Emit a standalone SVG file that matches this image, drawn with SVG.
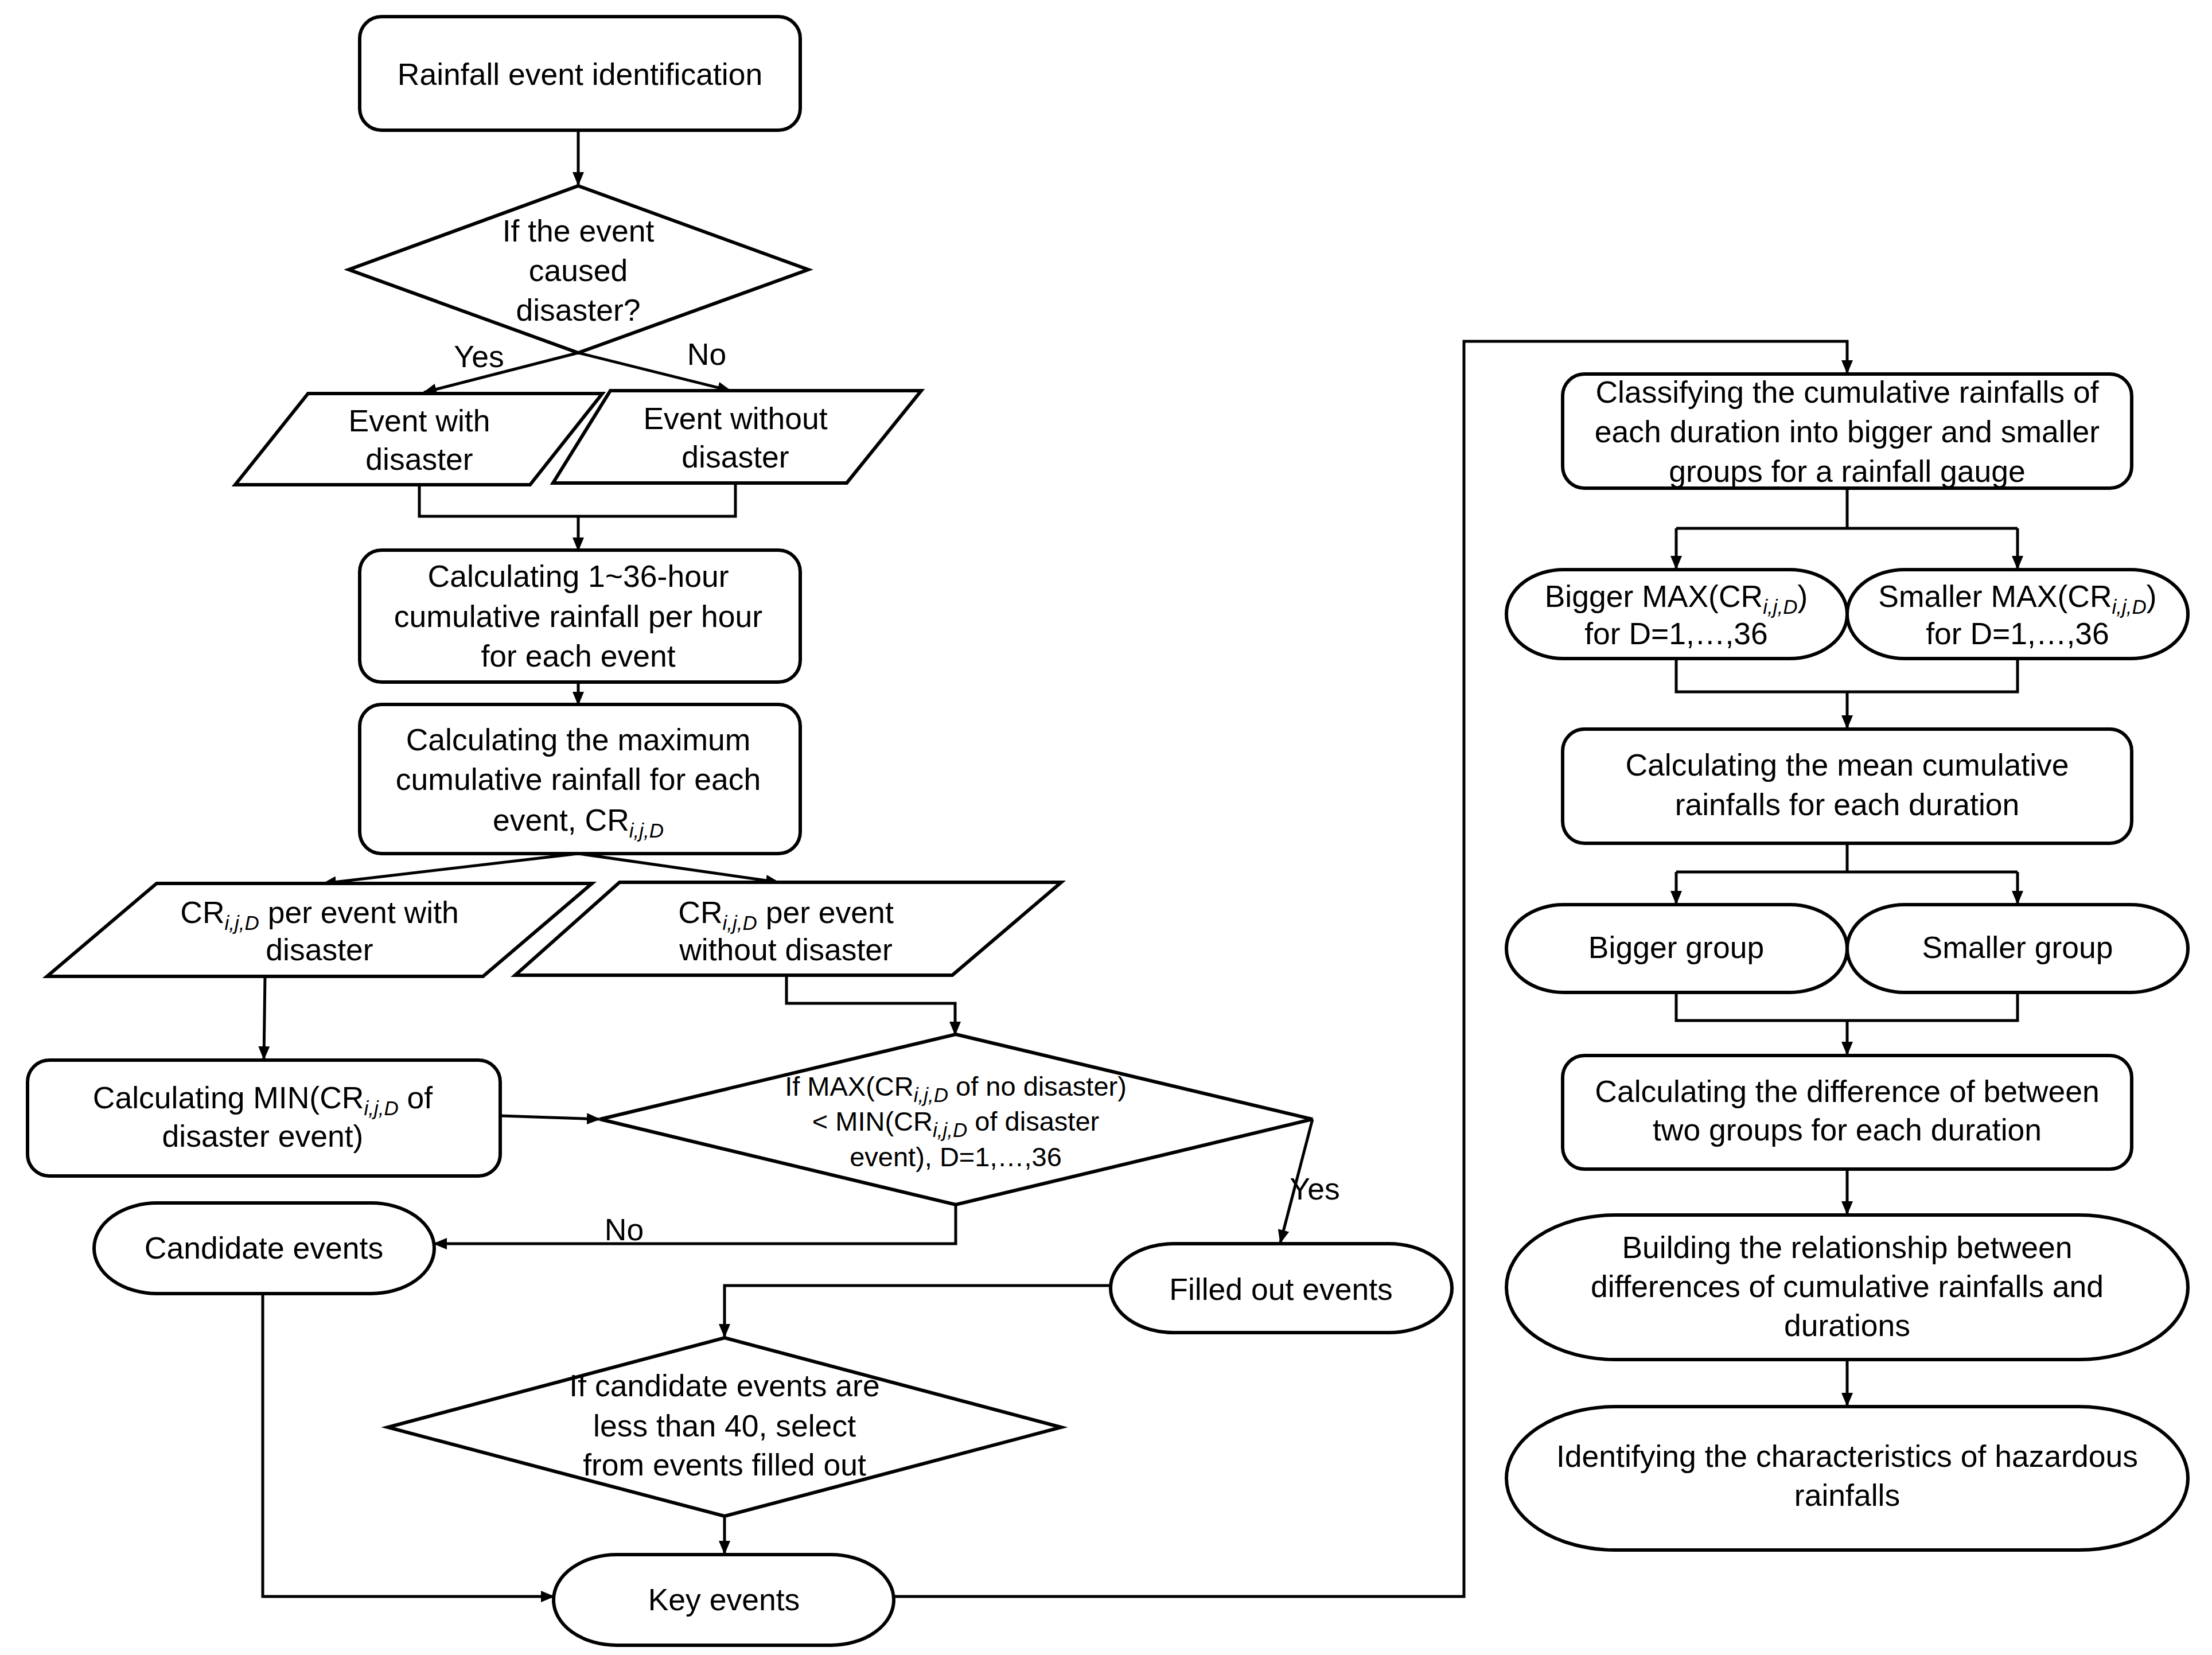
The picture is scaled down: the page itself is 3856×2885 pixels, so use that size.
<svg xmlns="http://www.w3.org/2000/svg" width="3856" height="2885" viewBox="0 0 3856 2885">
<defs>
<marker id="arr" markerUnits="userSpaceOnUse" markerWidth="24" markerHeight="20" refX="22" refY="10" orient="auto">
<path d="M0,0 L24,10 L0,20 Z" fill="#000"/>
</marker>
<style>
.s{fill:#fff;stroke:#000;stroke-width:6;stroke-linejoin:miter}
.c{fill:none;stroke:#000;stroke-width:5}
.a{marker-end:url(#arr)}
text{font-family:"Liberation Sans",Arial,sans-serif;font-size:53.5px;fill:#000;text-anchor:middle}
.sm{font-size:47px}
.sub{font-style:italic;font-size:35px}
</style>
</defs>
<rect width="3856" height="2885" fill="#fff"/>
<g id="connectors">
<line class="c a" x1="1008" y1="227" x2="1008" y2="322"/>
<line class="c a" x1="1008" y1="615" x2="739" y2="684"/>
<line class="c a" x1="1008" y1="615" x2="1273" y2="681"/>
<polyline class="c" points="731,845 731,900 1282,900 1282,842"/>
<line class="c a" x1="1008" y1="900" x2="1008" y2="959"/>
<line class="c a" x1="1008" y1="1188" x2="1008" y2="1228"/>
<line class="c a" x1="1008" y1="1488" x2="564" y2="1540"/>
<line class="c a" x1="1008" y1="1488" x2="1357" y2="1538"/>
<line class="c a" x1="462" y1="1700" x2="460" y2="1846"/>
<polyline class="c a" points="1371,1700 1371,1749 1665,1749 1665,1803"/>
<line class="c a" x1="872" y1="1945" x2="1045" y2="1951"/>
<polyline class="c a" points="1666,2098 1666,2168 757,2168"/>
<line class="c a" x1="2288" y1="1951" x2="2232" y2="2166"/>
<polyline class="c a" points="1936,2241 1263,2241 1263,2330"/>
<line class="c a" x1="1263" y1="2643" x2="1263" y2="2708"/>
<polyline class="c a" points="458,2255 458,2783 965,2783"/>
<polyline class="c a" points="1558,2783 2552,2783 2552,595 3220,595 3220,650"/>
<polyline class="c" points="3220,851 3220,921"/>
<polyline class="c a" points="2922,921 2922,991"/>
<polyline class="c a" points="3517,921 3517,991"/>
<line class="c" x1="2922" y1="921" x2="3517" y2="921"/>
<polyline class="c" points="2922,1148 2922,1206 3517,1206 3517,1148"/>
<line class="c a" x1="3220" y1="1206" x2="3220" y2="1269"/>
<line class="c" x1="3220" y1="1470" x2="3220" y2="1520"/>
<line class="c" x1="2922" y1="1520" x2="3517" y2="1520"/>
<line class="c a" x1="2922" y1="1520" x2="2922" y2="1575"/>
<line class="c a" x1="3517" y1="1520" x2="3517" y2="1575"/>
<polyline class="c" points="2922,1730 2922,1779 3517,1779 3517,1730"/>
<line class="c a" x1="3220" y1="1779" x2="3220" y2="1838"/>
<line class="c a" x1="3220" y1="2038" x2="3220" y2="2116"/>
<line class="c a" x1="3220" y1="2370" x2="3220" y2="2450"/>
<text x="835" y="640">Yes</text>
<text x="1232" y="636">No</text>
<text x="1088" y="2162">No</text>
<text x="2292" y="2091">Yes</text>
</g>
<g id="n1"><rect class="s" x="627" y="29" width="768" height="198" rx="38"/>
<text x="1011" y="148">Rainfall event identification</text></g>
<g id="n2"><polygon class="s" points="1008,324 1409,470 1008,615 608,470"/>
<text x="1008" y="421">If the event</text><text x="1008" y="490">caused</text><text x="1008" y="559">disaster?</text></g>
<g id="n3"><polygon class="s" points="537,686 1050,686 924,845 410,845"/>
<text x="731" y="752">Event with</text><text x="731" y="819">disaster</text></g>
<g id="n4"><polygon class="s" points="1064,681 1606,681 1476,842 964,842"/>
<text x="1282" y="748">Event without</text><text x="1282" y="815">disaster</text></g>
<g id="n5"><rect class="s" x="627" y="959" width="768" height="230" rx="38"/>
<text x="1008" y="1023">Calculating 1~36-hour</text><text x="1008" y="1093">cumulative rainfall per hour</text><text x="1008" y="1162">for each event</text></g>
<g id="n6"><rect class="s" x="627" y="1228" width="768" height="260" rx="38"/>
<text x="1008" y="1308">Calculating the maximum</text><text x="1008" y="1377">cumulative rainfall for each</text><text x="1008" y="1448">event, CR<tspan class="sub" dy="12">i,j,D</tspan></text></g>
<g id="n7"><polygon class="s" points="273,1540 1032,1540 842,1702 82,1702"/>
<text x="557" y="1609">CR<tspan class="sub" dy="12">i,j,D</tspan><tspan dy="-12"> per event with</tspan></text><text x="557" y="1674">disaster</text></g>
<g id="n8"><polygon class="s" points="1080,1538 1850,1538 1660,1700 898,1700"/>
<text x="1370" y="1609">CR<tspan class="sub" dy="12">i,j,D</tspan><tspan dy="-12"> per event</tspan></text><text x="1370" y="1674">without disaster</text></g>
<g id="n9"><rect class="s" x="48" y="1848" width="824" height="202" rx="38"/>
<text x="458" y="1932">Calculating MIN(CR<tspan class="sub" dy="12">i,j,D</tspan><tspan dy="-12"> of</tspan></text><text x="458" y="1999">disaster event)</text></g>
<g id="n10"><polygon class="s" points="1666,1803 2288,1951 1666,2100 1046,1951"/>
<text class="sm" x="1666" y="1910">If MAX(CR<tspan class="sub" dy="11" font-size="31">i,j,D</tspan><tspan dy="-11"> of no disaster)</tspan></text>
<text class="sm" x="1666" y="1971">&lt; MIN(CR<tspan class="sub" dy="11" font-size="31">i,j,D</tspan><tspan dy="-11"> of disaster</tspan></text>
<text class="sm" x="1666" y="2033">event), D=1,…,36</text></g>
<g id="n11"><rect class="s" x="164" y="2097" width="593" height="158" rx="110" ry="79"/>
<text x="460" y="2194">Candidate events</text></g>
<g id="n12"><rect class="s" x="1936" y="2168" width="595" height="155" rx="110" ry="77"/>
<text x="2233" y="2266">Filled out events</text></g>
<g id="n13"><polygon class="s" points="1263,2332 1850,2488 1263,2643 676,2488"/>
<text x="1263" y="2434">If candidate events are</text><text x="1263" y="2504">less than 40, select</text><text x="1263" y="2572">from events filled out</text></g>
<g id="n14"><rect class="s" x="965" y="2710" width="593" height="158" rx="110" ry="79"/>
<text x="1262" y="2807">Key events</text></g>
<g id="n15"><rect class="s" x="2724" y="652" width="992" height="199" rx="38"/>
<text x="3220" y="702">Classifying the cumulative rainfalls of</text><text x="3220" y="771">each duration into bigger and smaller</text><text x="3220" y="840">groups for a rainfall gauge</text></g>
<g id="n16"><rect class="s" x="2626" y="993" width="594" height="155" rx="100" ry="77"/>
<text x="2922" y="1058">Bigger MAX(CR<tspan class="sub" dy="12">i,j,D</tspan><tspan dy="-12">)</tspan></text><text x="2922" y="1123">for D=1,…,36</text></g>
<g id="n17"><rect class="s" x="3220" y="993" width="594" height="155" rx="100" ry="77"/>
<text x="3517" y="1058">Smaller MAX(CR<tspan class="sub" dy="12">i,j,D</tspan><tspan dy="-12">)</tspan></text><text x="3517" y="1123">for D=1,…,36</text></g>
<g id="n18"><rect class="s" x="2724" y="1271" width="992" height="199" rx="38"/>
<text x="3220" y="1352">Calculating the mean cumulative</text><text x="3220" y="1421">rainfalls for each duration</text></g>
<g id="n19"><rect class="s" x="2626" y="1577" width="594" height="153" rx="100" ry="76"/>
<text x="2922" y="1670">Bigger group</text></g>
<g id="n20"><rect class="s" x="3220" y="1577" width="594" height="153" rx="100" ry="76"/>
<text x="3517" y="1670">Smaller group</text></g>
<g id="n21"><rect class="s" x="2724" y="1840" width="992" height="198" rx="38"/>
<text x="3220" y="1921">Calculating the difference of between</text><text x="3220" y="1988">two groups for each duration</text></g>
<g id="n22"><rect class="s" x="2626" y="2118" width="1188" height="252" rx="190" ry="126"/>
<text x="3220" y="2193">Building the relationship between</text><text x="3220" y="2261">differences of cumulative rainfalls and</text><text x="3220" y="2329">durations</text></g>
<g id="n23"><rect class="s" x="2626" y="2452" width="1188" height="250" rx="190" ry="125"/>
<text x="3220" y="2557">Identifying the characteristics of hazardous</text><text x="3220" y="2625">rainfalls</text></g>
</svg>
